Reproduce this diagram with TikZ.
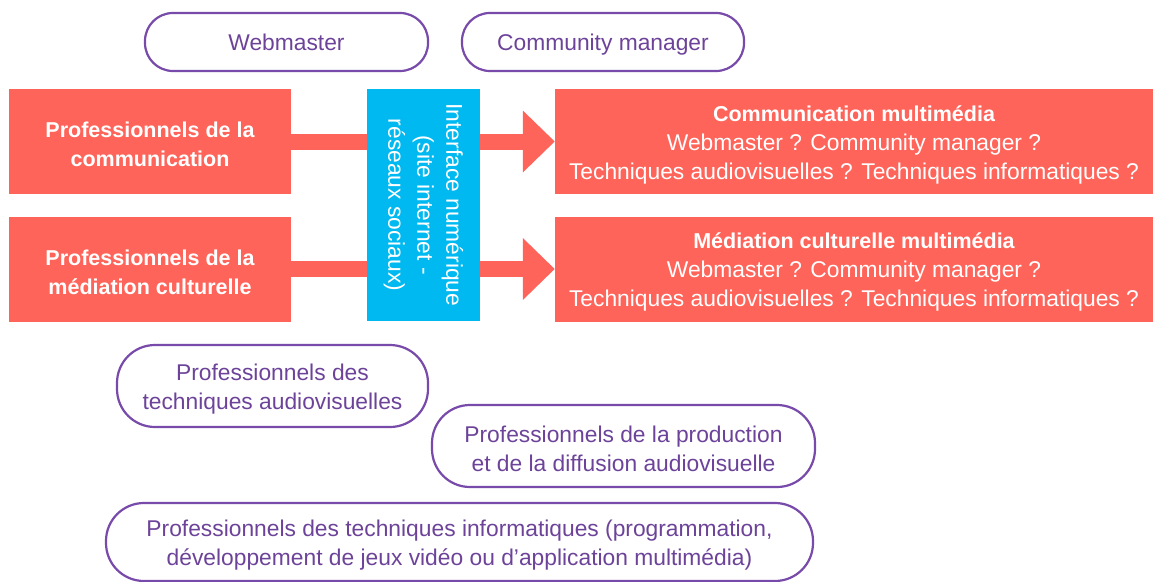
\documentclass[tikz,border=0pt]{standalone}
\usepackage{fontspec}
\setmainfont{Liberation Sans}
\usetikzlibrary{arrows.meta}
\definecolor{coral}{RGB}{255,100,90}
\definecolor{skyblue}{RGB}{0,185,240}
\definecolor{violet}{RGB}{120,74,170}
% bold headings are set a little smaller than the body text
\newcommand{\hd}[1]{{\fontsize{21.5}{29}\selectfont\bfseries #1}}
\begin{document}
\begin{tikzpicture}[x=1pt,y=-1pt,
  plain/.style={font=\fontsize{22.8}{29}\selectfont, align=center, inner sep=0pt},
  redbox/.style={fill=coral, inner sep=0pt, minimum width=#1, minimum height=105pt},
  redtext/.style={plain, text=white, yshift=-3pt},
  pillbase/.style={draw=violet, line width=2.2pt, inner sep=0pt},
  pill/.style={pillbase, plain, text=violet!90!black, rounded corners=28pt,
    minimum height=58pt, text height=22.4pt, text depth=5pt},
  bigpill/.style={pillbase, rounded corners=38pt},
  pilltext/.style={plain, text=violet!90!black, yshift=-3pt},
  flow/.style={coral, line width=16pt, -{Triangle[width=60pt,length=32pt]}}]
\useasboundingbox (0,0) rectangle (1153,581);

% roles on top
\node[pill, minimum width=283pt] (web) at (286.5,42) {Webmaster};
\node[pill, minimum width=282pt] (cm) at (603,42) {Community manager};

% professional groups on the left
\node[redbox=282pt] (com) at (150,141.5) {};
\node[redtext] (comt) at (com) {\hd{Professionnels de la}\\\hd{communication}};
\node[redbox=282pt] (med) at (150,269) {};
\node[redtext] (medt) at (med) {\hd{Professionnels de la}\\\hd{médiation culturelle}};

% resulting profiles on the right
\node[redbox=598pt] (rcom) at (854,141.5) {};
\node[redtext] (rcomt) at (rcom) {\hd{Communication multimédia}\\Webmaster ? Community manager ?\\Techniques audiovisuelles ? Techniques informatiques ?};
\node[redbox=598pt] (rmed) at (854,269) {};
\node[redtext] (rmedt) at (rmed) {\hd{Médiation culturelle multimédia}\\Webmaster ? Community manager ?\\Techniques audiovisuelles ? Techniques informatiques ?};

% flows through the digital interface
\draw[flow] (com.east) -- (rcom.west);
\draw[flow] (med.east) -- (rmed.west);

\node[fill=skyblue, minimum width=113pt, minimum height=232pt, inner sep=0pt] (ui) at (423.5,205) {};
\node[plain, text=white, rotate=-90] (uitxt) at (ui.center) {Interface numérique\\(site internet -\\réseaux sociaux)};

% other professions
\node[bigpill, minimum width=311pt, minimum height=82pt] (av) at (272.5,386) {};
\node[pilltext] (avt) at (av) {Professionnels des\\techniques audiovisuelles};
\node[bigpill, minimum width=383pt, minimum height=82pt] (prod) at (623.5,446) {};
\node[pilltext] (prodt) at (prod) {Professionnels de la production\\et de la diffusion audiovisuelle};
\node[bigpill, minimum width=707pt, minimum height=78pt] (info) at (459.5,542) {};
\node[pilltext] (infot) at (info) {Professionnels des techniques informatiques (programmation,\\développement de jeux vidéo ou d’application multimédia)};
\end{tikzpicture}
\end{document}
